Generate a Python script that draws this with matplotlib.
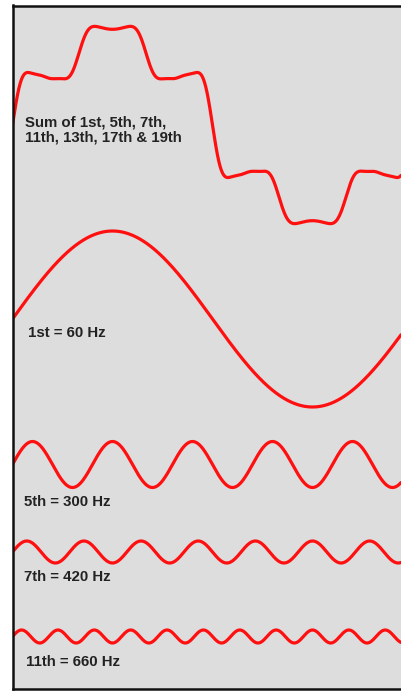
import numpy as np
import matplotlib
matplotlib.use("Agg")
import matplotlib.pyplot as plt

# Harmonic content of a six-pulse line current (fundamental = 60 Hz)
fundamental_hz = 60
sum_orders = [1, 5, 7, 11, 13, 17, 19]                    # harmonics added into the top trace
sum_weights = [1.0, 0.2, 0.14, 0.06, 0.035, 0.015, 0.01]  # relative size of each in the sum
sum_peak = 92                                             # fundamental amplitude of the summed trace
shown_orders = [1, 5, 7, 11]                              # individually drawn harmonics
shown_amplitudes = [88, 23, 11, 6.5]                      # drawn amplitude of each harmonic

sum_label = "Sum of 1st, 5th, 7th,\n11th, 13th, 17th & 19th"
shown_labels = ["1st = 60 Hz", "5th = 300 Hz", "7th = 420 Hz", "11th = 660 Hz"]

# Layout: vertical baselines of each trace and label anchors
sum_base = 125
shown_bases = [319, 464.5, 552, 636.5]
sum_text_pos = (12.5, 130)
shown_text_pos = [(15.5, 333), (11.5, 502), (11.5, 577), (13.5, 662)]

W, H = 401, 692
fig = plt.figure(figsize=(W / 100, H / 100), dpi=100)
fig.patch.set_facecolor("white")

left_px, top_px, bot_px = 12.5, 5.5, 689
ax = fig.add_axes([left_px / W, 1 - bot_px / H, 1 - left_px / W, (bot_px - top_px) / H])
ax.set_facecolor("#dddddd")

deg_per_px = 360 / 400
ax.set_xlim(0, (W - left_px) * deg_per_px)
ax.set_ylim(bot_px, top_px)

theta = np.linspace(0, 360, 3000)
rad = np.radians(theta)

red = "#ff1010"
lw = 2.3

# Summed waveform built from the listed harmonics
total = sum(w * np.sin(n * rad) for n, w in zip(sum_orders, sum_weights))
ax.plot(theta, sum_base - sum_peak * total, color=red, lw=lw, solid_capstyle="round")

for n, amp, base in zip(shown_orders, shown_amplitudes, shown_bases):
    ax.plot(theta, base - amp * np.sin(n * rad), color=red, lw=lw, solid_capstyle="round")

font = dict(family=["Liberation Sans", "DejaVu Sans"], weight="bold",
            fontsize=10.8, color="#222222", va="center", ha="left")
ax.text(sum_text_pos[0] * deg_per_px, sum_text_pos[1], sum_label, linespacing=1.08, **font)
for (tx, ty), lab in zip(shown_text_pos, shown_labels):
    ax.text(tx * deg_per_px, ty, lab, **font)

ax.set_xticks([])
ax.set_yticks([])
for side in ("left", "top", "bottom"):
    ax.spines[side].set_linewidth(1.8)
    ax.spines[side].set_color("#111111")
ax.spines["right"].set_visible(False)

fig.savefig("out.png", dpi=100, facecolor=fig.get_facecolor())
